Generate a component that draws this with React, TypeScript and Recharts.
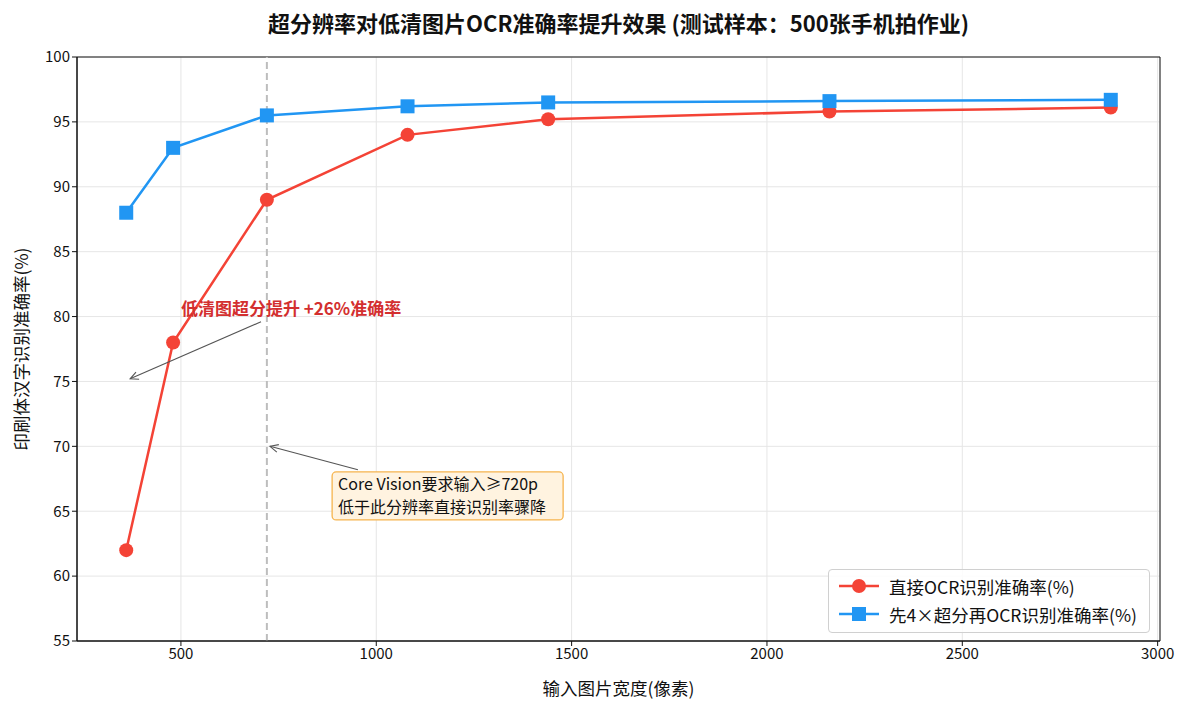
import React from 'react';
import { LineChart, Line, XAxis, YAxis, CartesianGrid, ReferenceLine, ReferenceDot, ReferenceArea } from 'recharts';

const widths = [360, 480, 720, 1080, 1440, 2160, 2880];
const directAcc = [62, 78, 89, 94, 95.2, 95.8, 96.1];
const srAcc = [88, 93, 95.5, 96.2, 96.5, 96.6, 96.7];
const xTicks = [500, 1000, 1500, 2000, 2500, 3000];
const yTicks = [55, 60, 65, 70, 75, 80, 85, 90, 95, 100];

const data = widths.map((w, i) => ({ x: w, direct: directAcc[i], sr: srAcc[i] }));

const FONT = '"Noto Sans CJK SC", "Noto Sans", sans-serif';
const RED = '#f44336';
const BLUE = '#2196f3';

const Square = (props: any) => {
  const { cx, cy } = props;
  if (cx == null || cy == null) return null;
  return <rect x={cx - 7} y={cy - 7} width={14} height={14} fill={BLUE} />;
};

const arrowShape = (props: any) => {
  const { x1, y1, x2, y2 } = props;
  if ([x1, y1, x2, y2].some((v) => v == null || isNaN(v))) return <g />;
  const ang = Math.atan2(y2 - y1, x2 - x1);
  const L = 9;
  const a1 = ang + Math.PI - 0.45;
  const a2 = ang + Math.PI + 0.45;
  return (
    <g>
      <line x1={x1} y1={y1} x2={x2} y2={y2} stroke="#555" strokeWidth={1.1} />
      <polyline
        points={`${x2 + L * Math.cos(a1)},${y2 + L * Math.sin(a1)} ${x2},${y2} ${x2 + L * Math.cos(a2)},${y2 + L * Math.sin(a2)}`}
        fill="none"
        stroke="#555"
        strokeWidth={1.1}
      />
    </g>
  );
};

const redText = (props: any) => {
  const { cx, cy } = props;
  if (cx == null) return <g />;
  return (
    <text x={cx} y={cy} fill="#d32f2f" fontSize={17} fontWeight="bold" fontFamily={FONT} dominantBaseline="middle">
      低清图超分提升 +26%准确率
    </text>
  );
};

const boxText = (props: any) => {
  const { cx, cy } = props;
  if (cx == null) return <g />;
  return (
    <g>
      <rect x={cx} y={cy - 1} width={231} height={48} rx={4} ry={4} fill="#fff3e0" stroke="#f6b44e" strokeWidth={1.3} />
      <text x={cx + 6} y={cy + 17} fontSize={16} fontFamily={FONT} fill="#111">
        <tspan x={cx + 6} y={cy + 17}>Core Vision要求输入≥720p</tspan>
        <tspan x={cx + 6} y={cy + 40}>低于此分辨率直接识别率骤降</tspan>
      </text>
    </g>
  );
};

const LegendBox = () => (
  <div
    style={{
      position: 'absolute',
      left: 828,
      top: 569,
      width: 322,
      height: 64,
      border: '1px solid #d0d0d0',
      borderRadius: 4,
      background: 'rgba(255,255,255,0.85)',
      fontFamily: FONT,
      fontSize: 17.5,
      color: '#111',
      boxSizing: 'border-box',
      padding: '2px 0 0 9px',
    }}
  >
    <div style={{ display: 'flex', alignItems: 'center', height: 28, whiteSpace: 'nowrap' }}>
      <svg width={42} height={20} style={{ flex: 'none' }}>
        <line x1={1} y1={10} x2={41} y2={10} stroke={RED} strokeWidth={2.5} />
        <circle cx={21} cy={10} r={7} fill={RED} />
      </svg>
      <span style={{ marginLeft: 9 }}>直接OCR识别准确率(%)</span>
    </div>
    <div style={{ display: 'flex', alignItems: 'center', height: 28, whiteSpace: 'nowrap' }}>
      <svg width={42} height={20} style={{ flex: 'none' }}>
        <line x1={1} y1={10} x2={41} y2={10} stroke={BLUE} strokeWidth={2.5} />
        <rect x={14} y={3} width={14} height={14} fill={BLUE} />
      </svg>
      <span style={{ marginLeft: 9 }}>先4×超分再OCR识别准确率(%)</span>
    </div>
  </div>
);

export default function App() {
  return (
    <div style={{ position: 'absolute', left: 0, top: 0, width: 1187, height: 708, background: '#fff', fontFamily: FONT }}>
      <div
        style={{
          position: 'absolute',
          left: 0,
          width: 1237,
          top: 6,
          textAlign: 'center',
          fontSize: 22,
          fontWeight: 'bold',
          color: '#111',
          whiteSpace: 'nowrap',
        }}
      >
        超分辨率对低清图片OCR准确率提升效果 (测试样本：500张手机拍作业)
      </div>
      <LineChart
        width={1187}
        height={708}
        data={data}
        margin={{ top: 57, right: 27, bottom: 0, left: 0 }}
        style={{ fontFamily: FONT }}
      >
        <CartesianGrid stroke="#e6e6e6" strokeWidth={1} />
        <XAxis
          dataKey="x"
          type="number"
          domain={[234, 3006]}
          ticks={xTicks}
          allowDataOverflow
          height={67}
          tick={{ fill: '#111', fontSize: 15 }}
          tickLine={{ stroke: '#111' }}
          axisLine={{ stroke: '#111' }}
          tickSize={5}
          label={{ value: '输入图片宽度(像素)', position: 'insideBottom', offset: 13, fill: '#111', fontSize: 17.5 }}
        />
        <YAxis
          type="number"
          domain={[55, 100]}
          ticks={yTicks}
          allowDataOverflow
          width={77}
          tick={{ fill: '#111', fontSize: 15 }}
          tickLine={{ stroke: '#111' }}
          axisLine={{ stroke: '#111' }}
          tickSize={5}
          label={{ value: '印刷体汉字识别准确率(%)', angle: -90, position: 'insideLeft', offset: 22, fill: '#111', fontSize: 17.5, style: { textAnchor: 'middle' } }}
        />
        <ReferenceArea x1={234} x2={3006} y1={55} y2={100} fill="none" stroke="#111" strokeWidth={1} ifOverflow="visible" />
        <ReferenceLine x={720} stroke="#bdbdbd" strokeWidth={2} strokeDasharray="7 4" />
        <Line
          type="linear"
          dataKey="direct"
          stroke={RED}
          strokeWidth={2.5}
          dot={{ r: 7, fill: RED, stroke: RED, strokeWidth: 0 }}
          isAnimationActive={false}
        />
        <Line
          type="linear"
          dataKey="sr"
          stroke={BLUE}
          strokeWidth={2.5}
          dot={<Square />}
          isAnimationActive={false}
        />
        <ReferenceLine segment={[{ x: 705, y: 79.6 }, { x: 370, y: 75.2 }]} shape={arrowShape} ifOverflow="visible" />
        <ReferenceLine segment={[{ x: 953, y: 68.2 }, { x: 728, y: 70 }]} shape={arrowShape} ifOverflow="visible" />
        <ReferenceDot x={500} y={80.5} r={0} shape={redText} ifOverflow="visible" />
        <ReferenceDot x={887} y={67.95} r={0} shape={boxText} ifOverflow="visible" />
      </LineChart>
      <LegendBox />
    </div>
  );
}
